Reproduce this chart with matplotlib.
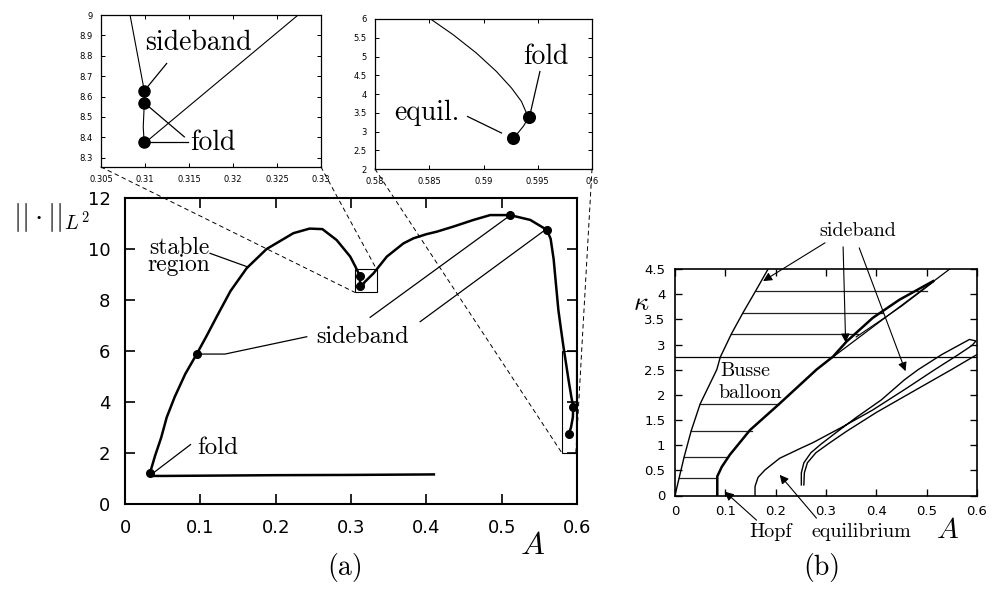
import matplotlib
matplotlib.use("Agg")
import matplotlib.pyplot as plt
from matplotlib.patches import Rectangle, ConnectionPatch

plt.rcParams["mathtext.fontset"] = "cm"
W, H = 996, 592
SERIF = "cmr10"

# ---------------- panel (a): main branch (A, L2 norm)
main_A = [0.41, 0.30, 0.20, 0.10, 0.050, 0.036, 0.033,
          0.040, 0.048, 0.0554, 0.066, 0.080, 0.0952, 0.1085, 0.1218, 0.140, 0.1616,
          0.188, 0.2235, 0.245, 0.262, 0.281, 0.299, 0.306, 0.310, 0.312, 0.312, 0.3125,
          0.318, 0.330, 0.3475, 0.3696, 0.383, 0.400, 0.414, 0.436, 0.4626, 0.4847,
          0.511, 0.538, 0.560, 0.565, 0.569, 0.5715, 0.5753, 0.579, 0.582, 0.5855,
          0.5888, 0.5925, 0.595, 0.5945, 0.592, 0.589]
main_N = [1.16, 1.14, 1.13, 1.11, 1.10, 1.10, 1.20,
          1.90, 2.60, 3.40, 4.20, 5.10, 5.88, 6.60, 7.35, 8.35, 9.25,
          10.00, 10.62, 10.80, 10.78, 10.35, 9.70, 9.30, 9.05, 8.95, 8.55, 8.42,
          8.70, 9.05, 9.70, 10.22, 10.42, 10.58, 10.68, 10.88, 11.14, 11.33,
          11.33, 11.14, 10.75, 10.40, 9.60, 8.80, 7.60, 6.80, 6.17, 5.50,
          4.86, 4.20, 3.80, 3.40, 3.00, 2.75]
main_dot_A = [0.033, 0.0952, 0.312, 0.312, 0.511, 0.560, 0.595, 0.589]
main_dot_N = [1.20, 5.88, 8.95, 8.55, 11.33, 10.75, 3.80, 2.75]

# inset 1 (zoom near A = 0.31)
in1_A = [0.3083, 0.30905, 0.30962, 0.30992, 0.30992, 0.3098, 0.3099, 0.3102, 0.3274]
in1_N = [9.0, 8.828, 8.697, 8.628, 8.569, 8.45, 8.377, 8.38, 9.0]
in1_dot_A = [0.30992, 0.30992, 0.3099]
in1_dot_N = [8.628, 8.569, 8.377]

# inset 2 (zoom near A = 0.59)
in2_A = [0.58512, 0.58720, 0.58934, 0.59118, 0.59258, 0.59350, 0.59396, 0.5942, 0.5937, 0.5932, 0.5927]
in2_N = [6.0, 5.582, 5.093, 4.604, 4.16, 3.80, 3.49, 3.40, 3.15, 2.97, 2.82]
in2_dot_A = [0.5942, 0.5927]
in2_dot_N = [3.40, 2.82]

# ---------------- panel (b): Busse balloon (A, kappa)
left_A = [0.0, 0.008, 0.018, 0.032, 0.050, 0.083, 0.090, 0.112, 0.135, 0.160, 0.185]
left_k = [0.0, 0.34, 0.76, 1.28, 1.82, 2.50, 2.75, 3.21, 3.63, 4.06, 4.50]
side_A = [0.084, 0.084, 0.093, 0.109, 0.149, 0.205, 0.281, 0.314, 0.341, 0.393, 0.446, 0.513]
side_k = [0.0, 0.38, 0.57, 0.81, 1.30, 1.80, 2.50, 2.76, 3.06, 3.53, 3.89, 4.26]
thin_A = [0.311, 0.546]
thin_k = [2.73, 4.50]
sliver_A = [0.36, 0.45, 0.513]
sliver_k = [3.15, 3.76, 4.24]
hatch_k = [0.34, 0.76, 1.28, 1.82, 3.21, 3.63, 4.06]
hatch_A0 = [0.008, 0.018, 0.032, 0.050, 0.112, 0.135, 0.160]
hatch_A1 = [0.084, 0.106, 0.152, 0.203, 0.364, 0.413, 0.500]
cross_k = 2.75
equil_A = [0.159, 0.159, 0.165, 0.179, 0.208, 0.250, 0.274, 0.334, 0.393, 0.460, 0.516, 0.560, 0.590, 0.598,
           0.585, 0.530, 0.483, 0.456, 0.410, 0.360, 0.320, 0.290, 0.270, 0.256, 0.251, 0.251]
equil_k = [0.0, 0.18, 0.36, 0.51, 0.74, 0.94, 1.05, 1.37, 1.70, 2.13, 2.50, 2.78, 2.98, 3.07,
           3.10, 2.80, 2.50, 2.30, 1.90, 1.55, 1.25, 1.02, 0.85, 0.65, 0.45, 0.21]
lower_A = [0.256, 0.257, 0.263, 0.280, 0.305, 0.340, 0.400, 0.470, 0.549, 0.600]
lower_k = [0.21, 0.45, 0.65, 0.85, 1.03, 1.27, 1.65, 2.05, 2.50, 2.80]

fig = plt.figure(figsize=(W / 100, H / 100), dpi=100, facecolor="white")


def add_px_axes(left, right, top, bottom):
    return fig.add_axes([left / W, 1 - bottom / H, (right - left) / W, (bottom - top) / H])


def style_axes(ax, lw, size, pad, length):
    for spine in ax.spines.values():
        spine.set_linewidth(lw)
    ax.tick_params(direction="in", top=True, right=True, labelsize=size,
                   pad=pad, length=length, width=lw * 0.8)


def fig_text(x, y, s, **kw):
    fig.text(x / W, 1 - y / H, s, **kw)


# ---------------- main axes (a)
ax = add_px_axes(125, 577, 198, 504)
ax.plot(main_A, main_N, color="k", lw=1.8, solid_joinstyle="round")
ax.plot(main_dot_A, main_dot_N, "o", color="k", ms=5.5)
ax.set_xlim(0, 0.6)
ax.set_ylim(0, 12)
ax.set_xticks([0, 0.1, 0.2, 0.3, 0.4, 0.5, 0.6])
ax.set_xticklabels(["0", "0.1", "0.2", "0.3", "0.4", "0.5", "0.6"])
ax.set_yticks([0, 2, 4, 6, 8, 10, 12])
style_axes(ax, 1.5, 13, 10.5, 7)
ax.add_patch(Rectangle((0.305, 8.3), 0.029, 0.9, fill=False, lw=0.8, ec="k"))
ax.add_patch(Rectangle((0.580, 2.0), 0.0185, 4.0, fill=False, lw=0.8, ec="k"))

ax.plot([0.039, 0.087], [1.25, 2.33], color="k", lw=0.9)
ax.text(0.0964, 2.2, "fold", family=SERIF, fontsize=18, va="center", ha="left")
ax.plot([0.1129, 0.1616], [9.83, 9.31], color="k", lw=0.9)
ax.text(0.0717, 9.72, "stable\nregion", family=SERIF, fontsize=17, va="center", ha="center",
        multialignment="center", linespacing=0.72)
ax.plot([0.0952, 0.1328, 0.2413], [5.88, 5.88, 6.56], color="k", lw=0.9)
ax.plot([0.3254, 0.509], [7.32, 11.27], color="k", lw=0.9)
ax.plot([0.3918, 0.5578], [7.15, 10.75], color="k", lw=0.9)
ax.text(0.2545, 6.55, "sideband", family=SERIF, fontsize=17.5, va="center", ha="left")

fig_text(13, 218, r"$||\cdot||_{L^2}$", fontsize=21, ha="left", va="center")
fig_text(533, 545, r"$A$", fontsize=23, ha="center", va="center")
fig_text(345, 568, "(a)", family=SERIF, fontsize=20, ha="center", va="center")

# ---------------- inset 1
ax1 = add_px_axes(101, 321, 15, 167)
ax1.plot(in1_A, in1_N, color="k", lw=0.8)
ax1.plot(in1_dot_A, in1_dot_N, "o", color="k", ms=8)
ax1.set_xlim(0.305, 0.33)
ax1.set_ylim(8.254, 9.0)
ax1.set_xticks([0.305, 0.31, 0.315, 0.32, 0.325, 0.33])
ax1.set_xticklabels(["0.305", "0.31", "0.315", "0.32", "0.325", "0.33"])
ax1.set_yticks([8.3, 8.4, 8.5, 8.6, 8.7, 8.8, 8.9, 9.0])
ax1.set_yticklabels(["8.3", "8.4", "8.5", "8.6", "8.7", "8.8", "8.9", "9"])
style_axes(ax1, 0.9, 6, 6, 3)
ax1.plot([0.31246, 0.30992], [8.762, 8.628], color="k", lw=0.9)
ax1.plot([0.31447, 0.30992], [8.402, 8.569], color="k", lw=0.9)
ax1.plot([0.31492, 0.3101], [8.377, 8.377], color="k", lw=0.9)
ax1.text(0.3100, 8.861, "sideband", family=SERIF, fontsize=20, va="center", ha="left")
ax1.text(0.3151, 8.372, "fold", family=SERIF, fontsize=20, va="center", ha="left")

# ---------------- inset 2
ax2 = add_px_axes(375, 592, 19, 169)
ax2.plot(in2_A, in2_N, color="k", lw=0.8)
ax2.plot(in2_dot_A, in2_dot_N, "o", color="k", ms=8.4)
ax2.set_xlim(0.58, 0.6)
ax2.set_ylim(2, 6)
ax2.set_xticks([0.58, 0.585, 0.59, 0.595, 0.6])
ax2.set_xticklabels(["0.58", "0.585", "0.59", "0.595", "0.6"])
ax2.set_yticks([2, 2.5, 3, 3.5, 4, 4.5, 5, 5.5, 6])
ax2.set_yticklabels(["2", "2.5", "3", "3.5", "4", "4.5", "5", "5.5", "6"])
style_axes(ax2, 0.9, 6, 6, 3)
ax2.plot([0.5952, 0.5943], [4.60, 3.47], color="k", lw=0.9)
ax2.plot([0.58853, 0.59166], [3.40, 2.96], color="k", lw=0.9)
ax2.text(0.59365, 5.0, "fold", family=SERIF, fontsize=20, va="center", ha="left")
ax2.text(0.58175, 3.49, "equil.", family=SERIF, fontsize=20, va="center", ha="left")

# dashed zoom connectors
for axA, ptA, ptB in [(ax1, (0, 0), (0.305, 8.3)), (ax1, (1, 0), (0.334, 9.2)),
                      (ax2, (0, 0), (0.580, 2.0)), (ax2, (1, 0), (0.5985, 2.0))]:
    con = ConnectionPatch(xyA=ptA, coordsA=axA.transAxes, xyB=ptB, coordsB=ax.transData,
                          color="k", lw=0.7, linestyle=(0, (4, 4)))
    fig.add_artist(con)

# ---------------- panel (b)
axb = add_px_axes(675, 977, 269, 495.5)
for k, a0, a1 in zip(hatch_k, hatch_A0, hatch_A1):
    axb.plot([a0, a1], [k, k], color="#222222", lw=0.9)
axb.plot([0, 0.6], [cross_k, cross_k], color="k", lw=0.9)
axb.plot(left_A, left_k, color="k", lw=1.0)
axb.plot(side_A, side_k, color="k", lw=1.8)
axb.plot(thin_A, thin_k, color="k", lw=0.9)
axb.plot(sliver_A, sliver_k, color="k", lw=0.8)
axb.plot(equil_A, equil_k, color="k", lw=1.0)
axb.plot(lower_A, lower_k, color="k", lw=1.0)
axb.set_xlim(0, 0.6)
axb.set_ylim(0, 4.5)
axb.set_xticks([0, 0.1, 0.2, 0.3, 0.4, 0.5, 0.6])
axb.set_xticklabels(["0", "0.1", "0.2", "0.3", "0.4", "0.5", "0.6"])
axb.set_yticks([0, 0.5, 1, 1.5, 2, 2.5, 3, 3.5, 4, 4.5])
axb.set_yticklabels(["0", "0.5", "1", "1.5", "2", "2.5", "3", "3.5", "4", "4.5"])
style_axes(axb, 1.2, 9.5, 7, 5)

arrow = dict(arrowstyle="-|>", color="k", lw=0.8, mutation_scale=13, shrinkA=0, shrinkB=0)
for tail, tip in [((0.298, 5.02), (0.175, 4.26)), ((0.334, 4.94), (0.339, 3.04)),
                  ((0.366, 4.92), (0.458, 2.47)), ((0.162, -0.49), (0.099, 0.076)),
                  ((0.281, -0.45), (0.208, 0.41))]:
    axb.annotate("", xy=tip, xytext=tail, arrowprops=arrow, annotation_clip=False)
axb.text(0.363, 5.25, "sideband", family=SERIF, fontsize=14.5, ha="center", va="center")
axb.text(0.140, 2.47, "Busse", family=SERIF, fontsize=14.5, ha="center", va="center")
axb.text(0.150, 2.04, "balloon", family=SERIF, fontsize=14.5, ha="center", va="center")
axb.text(0.190, -0.72, "Hopf", family=SERIF, fontsize=14.5, ha="center", va="center")
axb.text(0.371, -0.72, "equilibrium", family=SERIF, fontsize=14.5, ha="center", va="center")

fig_text(948, 530, r"$A$", fontsize=21, ha="center", va="center")
fig_text(641, 303, r"$\kappa$", fontsize=19, ha="center", va="center")
fig_text(822, 567, "(b)", family=SERIF, fontsize=20, ha="center", va="center")

fig.savefig("out.png", dpi=100, facecolor="white")
